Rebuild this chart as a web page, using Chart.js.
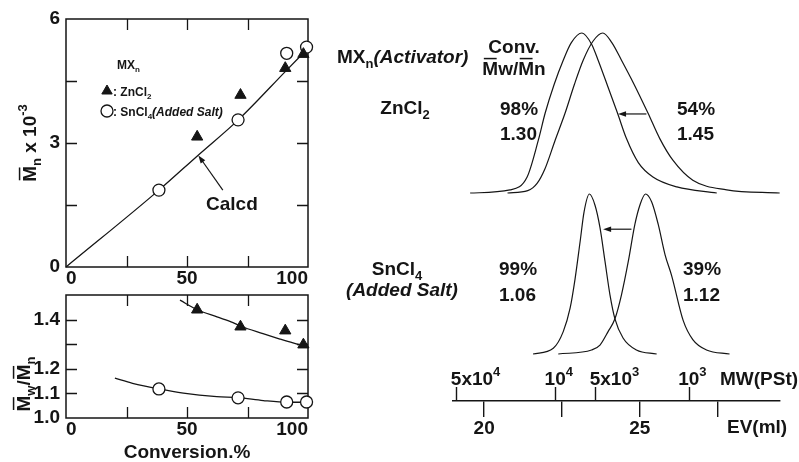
<!DOCTYPE html>
<html>
<head>
<meta charset="utf-8">
<script src="https://cdn.jsdelivr.net/npm/chart.js@4/dist/chart.umd.min.js"></script>
<style>
  html, body { margin: 0; padding: 0; background: #fff; }
  #wrap { position: relative; width: 799px; height: 462px; overflow: hidden; }
  canvas { position: absolute; left: 0; top: 0; }
</style>
</head>
<body>
<div id="wrap">
  <canvas id="mn" width="799" height="462"></canvas>
  <canvas id="pdi" width="799" height="462"></canvas>
  <canvas id="zn" width="799" height="462"></canvas>
  <canvas id="sn" width="799" height="462"></canvas>
  <canvas id="ev" width="799" height="462"></canvas>
</div>
<script>
// conversion (%) of each run
const znConv = [54.2, 72.1, 90.6, 98.1];
const snConv = [38.4, 71.1, 91.2, 99.4];
// Mn x 10^-3
const znMn = [3.15, 4.16, 4.81, 5.15];
const snMn = [1.86, 3.56, 5.17, 5.32];
// Mw/Mn
const znPdi = [1.44, 1.371, 1.355, 1.298];
const snPdi = [1.118, 1.082, 1.065, 1.065];
// calculated Mn line
const calcConv = [0, 38.4, 54.5, 71.2, 91.3, 100];
const calcMn = [0, 1.86, 2.70, 3.56, 4.77, 5.29];
// trend curves drawn through the Mw/Mn points
const znTrendConv = [47.1, 54.2, 62.4, 69, 72.3, 81.4, 88.4, 93.8, 100];
const znTrendPdi = [1.479, 1.44, 1.411, 1.388, 1.373, 1.343, 1.321, 1.305, 1.289];
const snTrendConv = [20.2, 27.5, 38.4, 48.5, 62.3, 71.2, 81.5, 91.5, 99.9];
const snTrendPdi = [1.162, 1.141, 1.118, 1.101, 1.087, 1.083, 1.071, 1.064, 1.064];

const convTicks = [0, 25, 50, 75, 100];
const convLabels = ['0', '', '50', '', '100'];
const mnTicks = [0, 1.5, 3, 4.5, 6];
const mnLabels = ['0', '', '3', '', '6'];
const pdiTicks = [1.0, 1.1, 1.2, 1.3, 1.4, 1.5];
const pdiLabels = ['1.0', '1.1', '1.2', '', '1.4', ''];

// GPC traces: elution volume (ml) vs detector response (peak = 100)
const zn98EV = [19.55, 20.83, 21.38, 21.74, 21.96, 22.25, 22.54, 22.8, 23.14, 23.45, 23.66, 24.0, 24.29, 24.57, 24.95, 25.42, 26.19, 27.47];
const zn98H = [0, 1.9, 10, 33, 50, 68, 83, 94, 100, 93, 83, 65, 49.5, 34, 19, 10, 3.8, 0];
const zn54EV = [20.75, 21.4, 21.7, 21.95, 22.28, 22.6, 22.9, 23.18, 23.5, 23.81, 24.1, 24.41, 24.8, 25.26, 25.64, 26.06, 26.7, 27.79, 29.49];
const zn54H = [0, 1.5, 6, 15, 33, 50, 68, 83, 95, 100, 94, 83, 68.5, 50, 34, 20.5, 8, 2, 0];
const sn99EV = [21.57, 22.22, 22.54, 22.76, 22.92, 23.08, 23.21, 23.38, 23.56, 23.72, 23.88, 24.04, 24.20, 24.46, 24.89, 25.54];
const sn99H = [0, 3.6, 14, 28.6, 47, 70, 89, 100, 93, 79, 58, 37, 22, 10, 2.5, 0];
const sn39EV = [22.38, 23.45, 23.72, 23.98, 24.20, 24.41, 24.63, 24.84, 25.00, 25.18, 25.38, 25.59, 25.81, 26.02, 26.39, 26.70, 27.14, 27.88];
const sn39H = [0, 2.5, 5.6, 14, 22, 37, 58, 81, 93, 100, 95, 81, 62, 49, 21, 9, 2.5, 0];

const evTicks = [20, 22.5, 25, 27.5];
const evLabels = ['20', '', '25', ''];
const mwMantissa = ['5x10', '10', '5x10', '10'];
const mwExponent = ['4', '4', '3', '3'];
const mwEV = [19.1, 22.28, 23.56, 26.57];

const INK = '#151515';
const FAMILY = '"Liberation Sans", Arial, Helvetica, sans-serif';
Chart.defaults.font.family = FAMILY;
Chart.defaults.color = INK;

// draws a run of text pieces (sub/superscripts, italics, overbars)
function rich(ctx, x, y, parts, o = {}) {
  const size = o.size || 19;
  const small = Math.round(size * 0.7);
  const font = p => `${p.it ? 'italic ' : ''}bold ${p.sub || p.sup ? small : size}px ${FAMILY}`;
  ctx.save();
  ctx.translate(x, y);
  if (o.rot) ctx.rotate(o.rot);
  let w = 0;
  parts.forEach(p => { ctx.font = font(p); w += ctx.measureText(p.t).width; });
  let cx = o.align === 'center' ? -w / 2 : o.align === 'right' ? -w : 0;
  ctx.fillStyle = INK;
  ctx.textBaseline = 'alphabetic';
  ctx.textAlign = 'left';
  parts.forEach(p => {
    ctx.font = font(p);
    const dy = p.sub ? size * 0.28 : p.sup ? -size * 0.45 : 0;
    ctx.fillText(p.t, cx, dy);
    const pw = ctx.measureText(p.t).width;
    if (p.bar) ctx.fillRect(cx + 1.5, -size * 0.72 - 3.5, pw - 3, 1.5);
    cx += pw;
  });
  ctx.restore();
}

function arrow(ctx, x1, y1, x2, y2, head = 8, half = 2.8) {
  const a = Math.atan2(y2 - y1, x2 - x1), c = Math.cos(a), s = Math.sin(a);
  ctx.beginPath();
  ctx.moveTo(x1, y1);
  ctx.lineTo(x2 - c * head * 0.7, y2 - s * head * 0.7);
  ctx.stroke();
  ctx.beginPath();
  ctx.moveTo(x2, y2);
  ctx.lineTo(x2 - c * head + s * half, y2 - s * head - c * half);
  ctx.lineTo(x2 - c * head - s * half, y2 - s * head + c * half);
  ctx.closePath();
  ctx.fill();
}

const pts = (xs, ys) => xs.map((x, i) => ({ x, y: ys[i] }));
const useTicks = vals => scale => { scale.ticks = vals.map(value => ({ value })); };
const tickFont = { family: FAMILY, size: 19, weight: 'bold' };

const base = {
  responsive: false,
  animation: false,
  events: [],
  plugins: { legend: { display: false }, tooltip: { enabled: false } }
};

const triangles = (xs, ys) => ({
  data: pts(xs, ys), pointStyle: 'triangle', pointRadius: 6.5,
  backgroundColor: INK, borderColor: INK, borderWidth: 1, order: 0, clip: false
});
const circles = (xs, ys) => ({
  data: pts(xs, ys), pointStyle: 'circle', pointRadius: 6,
  backgroundColor: '#fff', borderColor: INK, borderWidth: 1.3, order: 0, clip: false
});
const curve = (xs, ys, w = 1.3) => ({
  data: pts(xs, ys), showLine: true, pointRadius: 0, borderColor: INK,
  borderWidth: w, cubicInterpolationMode: 'monotone', order: 1, clip: 4
});

// box with inward tick marks on all four sides
const framePlugin = {
  id: 'frame',
  beforeDatasetsDraw(chart) {
    const { ctx, chartArea: a, scales: { x, y } } = chart;
    ctx.save();
    ctx.strokeStyle = INK;
    ctx.lineWidth = 1.5;
    ctx.strokeRect(a.left, a.top, a.right - a.left, a.bottom - a.top);
    ctx.lineWidth = 1.3;
    ctx.beginPath();
    x.ticks.forEach(t => {
      if (t.value <= x.min || t.value >= x.max) return;
      const px = Math.round(x.getPixelForValue(t.value)) + 0.5;
      ctx.moveTo(px, a.top); ctx.lineTo(px, a.top + 11);
      ctx.moveTo(px, a.bottom); ctx.lineTo(px, a.bottom - 11);
    });
    y.ticks.forEach(t => {
      if (t.value <= y.min + 1e-9 || t.value >= y.max - 1e-9) return;
      const py = Math.round(y.getPixelForValue(t.value)) + 0.5;
      ctx.moveTo(a.left, py); ctx.lineTo(a.left + 11, py);
      ctx.moveTo(a.right, py); ctx.lineTo(a.right - 11, py);
    });
    ctx.stroke();
    ctx.restore();
  }
};

const leftScales = (yMin, yMax, yTicks, yLabels, xHeight, title) => ({
  x: {
    type: 'linear', min: 0, max: 100,
    afterBuildTicks: useTicks(convTicks),
    afterFit: s => { s.height = xHeight; },
    grid: { display: false, drawTicks: false },
    border: { display: false },
    ticks: { callback: (v, i) => convLabels[i], font: tickFont, color: INK, padding: 0, maxRotation: 0, autoSkip: false, align: 'inner' },
    title: title ? { display: true, text: title, font: { family: FAMILY, size: 19, weight: 'bold', lineHeight: 1 }, color: INK, padding: { top: 0, bottom: 0 } } : { display: false }
  },
  y: {
    type: 'linear', min: yMin, max: yMax,
    afterBuildTicks: useTicks(yTicks),
    afterFit: s => { s.width = 66; },
    grid: { display: false, drawTicks: false },
    border: { display: false },
    ticks: { callback: (v, i) => yLabels[i], font: tickFont, color: INK, padding: 6, autoSkip: false }
  }
});

// ---- Mn vs conversion ----
new Chart(document.getElementById('mn'), {
  type: 'scatter',
  data: {
    datasets: [
      triangles(znConv, znMn),
      circles(snConv, snMn),
      curve(calcConv, calcMn)
    ]
  },
  options: {
    ...base,
    layout: { padding: { left: 0, top: 19, right: 491, bottom: 172 } },
    scales: leftScales(0, 6, mnTicks, mnLabels, 23)
  },
  plugins: [framePlugin, {
    id: 'mnNotes',
    afterDraw(chart) {
      const { ctx, scales: { x, y } } = chart;
      rich(ctx, 36, 143, [{ t: 'M', bar: true }, { t: 'n', sub: true }, { t: ' x 10' }, { t: '-3', sup: true }], { rot: -Math.PI / 2, align: 'center' });
      // legend
      rich(ctx, 117, 69, [{ t: 'MX' }, { t: 'n', sub: true }], { size: 12 });
      ctx.save();
      ctx.fillStyle = INK; ctx.strokeStyle = INK;
      Chart.helpers.drawPoint(ctx, { pointStyle: 'triangle', radius: 6, borderWidth: 1 }, 107, 91);
      ctx.fillStyle = '#fff'; ctx.lineWidth = 1.3;
      Chart.helpers.drawPoint(ctx, { pointStyle: 'circle', radius: 6, borderWidth: 1.3 }, 107, 111);
      ctx.restore();
      rich(ctx, 113, 95.5, [{ t: ': ZnCl' }, { t: '2', sub: true }], { size: 12 });
      rich(ctx, 113, 115.5, [{ t: ': SnCl' }, { t: '4', sub: true }, { t: '(Added Salt)', it: true }], { size: 12 });
      // Calcd label
      rich(ctx, 206, 210, [{ t: 'Calcd' }]);
      ctx.save();
      ctx.strokeStyle = INK; ctx.fillStyle = INK; ctx.lineWidth = 1.2;
      arrow(ctx, x.getPixelForValue(64.8), y.getPixelForValue(1.86), x.getPixelForValue(54.7), y.getPixelForValue(2.70));
      ctx.restore();
    }
  }]
});

// ---- Mw/Mn vs conversion ----
new Chart(document.getElementById('pdi'), {
  type: 'scatter',
  data: {
    datasets: [
      triangles(znConv, znPdi),
      circles(snConv, snPdi),
      curve(znTrendConv, znTrendPdi),
      curve(snTrendConv, snTrendPdi)
    ]
  },
  options: {
    ...base,
    layout: { padding: { left: 0, top: 295, right: 491, bottom: 0 } },
    scales: leftScales(1.0, 1.5, pdiTicks, pdiLabels, 44, 'Conversion.%')
  },
  plugins: [framePlugin, {
    id: 'pdiNotes',
    afterDraw(chart) {
      rich(chart.ctx, 30, 384, [{ t: 'M', bar: true }, { t: 'w', sub: true }, { t: '/' }, { t: 'M', bar: true }, { t: 'n', sub: true }], { rot: -Math.PI / 2, align: 'center' });
    }
  }]
});

// ---- GPC traces ----
const traceScales = {
  x: { type: 'linear', min: 19, max: 29.5, display: false },
  y: { type: 'linear', min: 0, max: 100, display: false }
};

new Chart(document.getElementById('zn'), {
  type: 'scatter',
  data: { datasets: [curve(zn98EV, zn98H, 1.2), curve(zn54EV, zn54H, 1.2)] },
  options: { ...base, layout: { padding: { left: 453, right: 19, top: 33, bottom: 269 } }, scales: traceScales },
  plugins: [{
    id: 'znNotes',
    afterDraw(chart) {
      const { ctx, scales: { x, y } } = chart;
      rich(ctx, 337, 63, [{ t: 'MX' }, { t: 'n', sub: true }, { t: '(Activator)', it: true }]);
      rich(ctx, 514, 53, [{ t: 'Conv.' }], { align: 'center' });
      rich(ctx, 514, 75, [{ t: 'M', bar: true }, { t: 'w/' }, { t: 'M', bar: true }, { t: 'n' }], { align: 'center' });
      rich(ctx, 405, 114, [{ t: 'ZnCl' }, { t: '2', sub: true }], { align: 'center' });
      rich(ctx, 500, 115, [{ t: '98%' }]);
      rich(ctx, 500, 140, [{ t: '1.30' }]);
      rich(ctx, 677, 115, [{ t: '54%' }]);
      rich(ctx, 677, 140, [{ t: '1.45' }]);
      ctx.save();
      ctx.strokeStyle = INK; ctx.fillStyle = INK; ctx.lineWidth = 1.2;
      arrow(ctx, x.getPixelForValue(25.21), y.getPixelForValue(49.4), x.getPixelForValue(24.30), y.getPixelForValue(49.4));
      ctx.restore();
    }
  }]
});

new Chart(document.getElementById('sn'), {
  type: 'scatter',
  data: { datasets: [curve(sn99EV, sn99H, 1.2), curve(sn39EV, sn39H, 1.2)] },
  options: { ...base, layout: { padding: { left: 453, right: 19, top: 194, bottom: 108 } }, scales: traceScales },
  plugins: [{
    id: 'snNotes',
    afterDraw(chart) {
      const { ctx, scales: { x, y } } = chart;
      rich(ctx, 397, 275, [{ t: 'SnCl' }, { t: '4', sub: true }], { align: 'center' });
      rich(ctx, 402, 296, [{ t: '(Added Salt)', it: true }], { align: 'center' });
      rich(ctx, 499, 275, [{ t: '99%' }]);
      rich(ctx, 499, 301, [{ t: '1.06' }]);
      rich(ctx, 683, 275, [{ t: '39%' }]);
      rich(ctx, 683, 301, [{ t: '1.12' }]);
      ctx.save();
      ctx.strokeStyle = INK; ctx.fillStyle = INK; ctx.lineWidth = 1.2;
      arrow(ctx, x.getPixelForValue(24.73), y.getPixelForValue(78), x.getPixelForValue(23.82), y.getPixelForValue(78));
      ctx.restore();
    }
  }]
});

// ---- EV / MW axis ----
new Chart(document.getElementById('ev'), {
  type: 'scatter',
  data: { datasets: [] },
  options: {
    ...base,
    layout: { padding: { left: 453, right: 19, top: 360, bottom: 0 } },
    scales: {
      x: {
        type: 'linear', min: 19, max: 29.5, position: 'bottom',
        afterBuildTicks: useTicks(evTicks),
        afterFit: s => { s.height = 61; },
        grid: { display: true, drawOnChartArea: false, drawTicks: true, tickLength: 16, color: INK, lineWidth: 1.4 },
        border: { display: true, color: INK, width: 1.5 },
        ticks: { callback: (v, i) => evLabels[i], font: tickFont, color: INK, padding: 0, maxRotation: 0, autoSkip: false }
      },
      y: { type: 'linear', min: 0, max: 1, display: false }
    }
  },
  plugins: [{
    id: 'mwAxis',
    afterDraw(chart) {
      const { ctx, chartArea: a, scales: { x } } = chart;
      ctx.save();
      ctx.strokeStyle = INK; ctx.lineWidth = 1.4;
      ctx.beginPath();
      mwEV.forEach(ev => {
        const px = Math.round(x.getPixelForValue(ev)) + 0.5;
        ctx.moveTo(px, a.bottom); ctx.lineTo(px, a.bottom - 14);
      });
      ctx.stroke();
      ctx.font = `bold 19px ${FAMILY}`;
      mwEV.forEach((ev, i) => {
        const px = x.getPixelForValue(ev);
        const lead = mwMantissa[i].startsWith('5') ? '5' : '10';
        const off = ctx.measureText(lead).width / 2;
        rich(ctx, px - off, a.bottom - 16, [{ t: mwMantissa[i] }, { t: mwExponent[i], sup: true }]);
      });
      ctx.restore();
      rich(ctx, 720, 385, [{ t: 'MW(PSt)' }]);
      rich(ctx, 727, 433, [{ t: 'EV(ml)' }]);
    }
  }]
});
</script>
</body>
</html>
